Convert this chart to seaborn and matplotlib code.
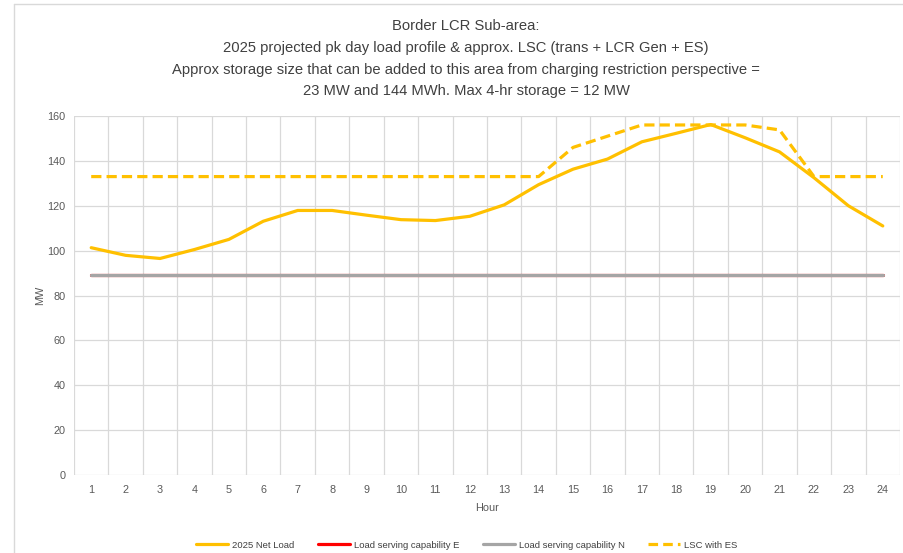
import matplotlib
matplotlib.use("Agg")
import matplotlib.pyplot as plt
from matplotlib.lines import Line2D
import numpy as np
import pandas as pd
import seaborn as sns

hours = list(range(1, 25))
net_load = [101.3, 97.9, 96.5, 100.5, 105, 113.1, 117.9, 117.9, 115.8, 113.8, 113.4, 115.3,
            120.4, 129.4, 136.3, 140.8, 148.5, 152.3, 156.2, 150.3, 144.0, 132.5, 120.0, 111.0]
lsc_e = [89] * 24
lsc_n = [89] * 24
lsc_es = [133, 133, 133, 133, 133, 133, 133, 133, 133, 133, 133, 133,
          133, 133, 146, 151, 156, 156, 156, 156, 153.8, 133, 133, 133]
series_names = ["2025 Net Load", "Load serving capability E", "Load serving capability N", "LSC with ES"]
title_lines = ["Border LCR Sub-area:",
               "2025 projected pk day load profile & approx. LSC (trans + LCR Gen + ES)",
               "Approx storage size that can be added to this area from charging restriction perspective =",
               "23 MW and 144 MWh. Max 4-hr storage = 12 MW"]

sns.set_theme(style="white")
plt.rcParams['font.family'] = ['Liberation Sans', 'DejaVu Sans']

df = pd.DataFrame({"Hour": hours, "net": net_load, "e": lsc_e, "n": lsc_n, "es": lsc_es})

W, H = 904, 553
fig = plt.figure(figsize=(W / 100, H / 100), dpi=100)
ax = fig.add_axes([74 / W, 1 - 475 / H, (900 - 74) / W, (475 - 116) / H])

gold = "#FFC000"
dash = (0, (3.2, 1.6))
sns.lineplot(data=df, x="Hour", y="net", ax=ax, color=gold, lw=2.3, label=series_names[0], zorder=4)
sns.lineplot(data=df, x="Hour", y="e", ax=ax, color="#FF0000", lw=2.3, label=series_names[1], zorder=3)
sns.lineplot(data=df, x="Hour", y="n", ax=ax, color="#A5A5A5", lw=2.3, label=series_names[2], zorder=3.5)
sns.lineplot(data=df, x="Hour", y="es", ax=ax, color=gold, lw=2.3, label=series_names[3], zorder=5,
             linestyle=dash)

ax.set_xlim(0.5, 24.5)
ax.set_ylim(0, 160)
ax.set_xticks(hours)
ax.set_xticks(np.arange(0.5, 25, 1), minor=True)
ax.set_yticks(np.arange(0, 161, 20))
ax.grid(False)
ax.grid(True, which="minor", axis="x", color="#D9D9D9", lw=0.9)
ax.grid(True, which="major", axis="y", color="#D9D9D9", lw=0.9)
ax.set_axisbelow(True)
for s in ax.spines.values():
    s.set_visible(False)
ax.tick_params(axis="both", which="both", length=0, labelsize=7.8, colors="#595959")
ax.tick_params(axis="x", pad=7)
ax.tick_params(axis="y", pad=6)
ax.set_xlabel("Hour", fontsize=7.8, color="#595959", labelpad=6)
ax.set_ylabel("MW", fontsize=7.8, color="#595959", labelpad=2)

ax.legend_.remove()
handles = [Line2D([], [], color=gold, lw=2.3),
           Line2D([], [], color="#FF0000", lw=2.3),
           Line2D([], [], color="#A5A5A5", lw=2.3),
           Line2D([], [], color=gold, lw=2.3, linestyle=(0, (3.0, 1.6)))]
fig.legend(handles, series_names, loc="center", bbox_to_anchor=(467 / W, 1 - 545 / H), ncol=4,
           frameon=False, fontsize=6.8, handlelength=3.4, columnspacing=2.5, handletextpad=0.4,
           labelcolor="#404040")

ys = [26, 48, 70, 91]
for t, y in zip(title_lines, ys):
    fig.text(466 / W, 1 - y / H, t, ha="center", va="center", fontsize=10.6, color="#404040")

# chart area border
fig.add_artist(Line2D([14 / W, 14 / W], [0, 1 - 4 / H], transform=fig.transFigure, color="#D9D9D9", lw=1))
fig.add_artist(Line2D([14 / W, 1], [1 - 4 / H, 1 - 4 / H], transform=fig.transFigure, color="#D9D9D9", lw=1))

fig.savefig("out.png", dpi=100)
